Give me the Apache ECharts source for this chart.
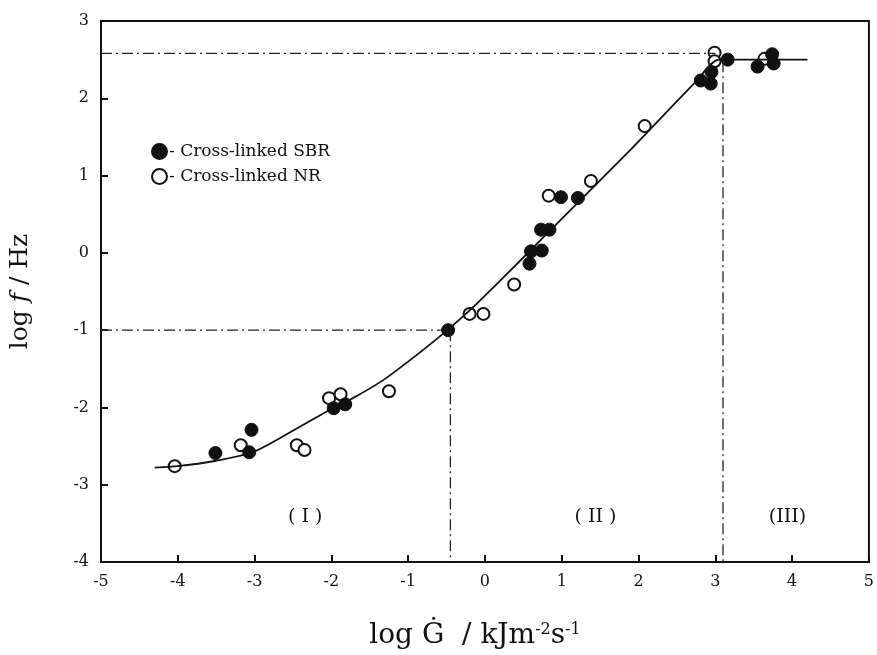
<!DOCTYPE html>
<html lang="en">
<head>
    <meta charset="UTF-8">
    <title>log f vs log G-dot</title>
    <script src="https://cdn.jsdelivr.net/npm/echarts@6/dist/echarts.min.js"></script>
    <style>
        *{
            padding: 0;
            margin: 0;
        }
        body{
            background: #ffffff;
        }
        #chart{
            width: 877px;
            height: 655px;
        }
    </style>
</head>
<body>
<div id="chart"></div>
<script>
    // data
    var sbrPoints = [
        [-3.51, -2.59], [-3.07, -2.58], [-3.04, -2.29], [-1.97, -2.01], [-1.82, -1.96],
        [-0.48, -1.00], [0.58, -0.14], [0.60, 0.02], [0.74, 0.03], [0.73, 0.30],
        [0.84, 0.30], [0.99, 0.72], [1.21, 0.71], [2.81, 2.23], [2.95, 2.34],
        [2.94, 2.19], [3.16, 2.50], [3.55, 2.41], [3.74, 2.57], [3.76, 2.45]
    ];
    var nrPoints = [
        [-4.04, -2.76], [-3.18, -2.49], [-2.45, -2.49], [-2.35, -2.55], [-2.03, -1.88],
        [-1.88, -1.83], [-1.25, -1.79], [-0.20, -0.79], [-0.02, -0.79], [0.38, -0.41],
        [0.83, 0.74], [1.38, 0.93], [2.08, 1.64], [2.99, 2.59], [2.99, 2.48], [3.64, 2.51]
    ];
    // fitted curve
    var curvePoints = [
        [-4.3, -2.78], [-4.0, -2.76], [-3.5, -2.69], [-3.0, -2.57], [-2.41, -2.25],
        [-2.0, -2.02], [-1.72, -1.88], [-1.33, -1.65], [-0.9, -1.33], [-0.49, -1.0],
        [-0.13, -0.68], [0.5, -0.06], [1.0, 0.44], [1.9, 1.34], [2.75, 2.22],
        [3.05, 2.5], [4.2, 2.5]
    ];
    // dash-dot guide lines
    var guideLines = [
        [[-5, 2.58], [3.0, 2.58]],
        [[3.1, 2.48], [3.1, -4]],
        [[-5, -1.0], [-0.45, -1.0]],
        [[-0.45, -1.0], [-0.45, -4]]
    ];
    var regionLabels = [
        [-2.34, -3.42, '( I )'],
        [1.44, -3.42, '( II )'],
        [3.94, -3.42, '(III)']
    ];
    var xTicks = [-5, 5, 1];
    var yTicks = [-4, 3, 1];

    var serif = 'DejaVu Serif';
    var my_chart = echarts.init(document.getElementById('chart'));

    var series = [];
    guideLines.forEach(function (seg) {
        series.push({
            type: 'line',
            data: seg,
            symbol: 'none',
            silent: true,
            lineStyle: {color: '#222', width: 1.3, type: [11, 4, 2, 4]}
        });
    });
    series.push({
        type: 'line',
        data: curvePoints,
        smooth: 0.25,
        symbol: 'none',
        lineStyle: {color: '#111', width: 1.8}
    });
    series.push({
        name: 'Cross-linked NR',
        type: 'scatter',
        data: nrPoints,
        symbolSize: 12,
        itemStyle: {color: '#ffffff', borderColor: '#111', borderWidth: 2, opacity: 1}
    });
    series.push({
        name: 'Cross-linked SBR',
        type: 'scatter',
        data: sbrPoints,
        symbolSize: 13,
        itemStyle: {color: '#111', borderColor: '#111', borderWidth: 1, opacity: 1}
    });
    series.push({
        type: 'scatter',
        data: regionLabels,
        symbolSize: 0,
        silent: true,
        label: {
            show: true,
            formatter: function (p) { return p.data[2]; },
            fontFamily: serif,
            fontSize: 19,
            color: '#111'
        },
        itemStyle: {opacity: 1}
    });

    my_chart.setOption({
        backgroundColor: '#ffffff',
        animation: false,
        grid: {
            left: 99, right: 3, top: 21, bottom: 91,
            show: true,
            borderColor: '#111',
            borderWidth: 2
        },
        legend: {
            data: ['Cross-linked SBR', 'Cross-linked NR'],
            orient: 'vertical',
            left: 146,
            top: 138,
            itemWidth: 15,
            itemHeight: 15,
            itemGap: 8,
            formatter: function (name) { return '- ' + name; },
            textStyle: {fontFamily: serif, fontSize: 17, color: '#111', padding: [0, 0, 0, -3]}
        },
        xAxis: {
            type: 'value',
            min: xTicks[0], max: xTicks[1], interval: xTicks[2],
            name: '{a|log Ġ  / kJm}{s|-2}{a|s}{s|-1}',
            nameLocation: 'middle',
            nameGap: 60,
            nameTextStyle: {
                padding: [0, 20, 0, 0],
                rich: {
                    a: {fontFamily: serif, fontSize: 28, color: '#111'},
                    s: {fontFamily: serif, fontSize: 16, color: '#111', verticalAlign: 'top', padding: [0, 0, 12, 0]}
                }
            },
            axisLine: {onZero: false, lineStyle: {color: '#111', width: 2}},
            axisTick: {inside: true, length: 7, lineStyle: {color: '#111', width: 2}},
            axisLabel: {fontFamily: serif, fontSize: 16, color: '#111', margin: 12},
            splitLine: {show: false}
        },
        yAxis: {
            type: 'value',
            min: yTicks[0], max: yTicks[1], interval: yTicks[2],
            name: '{a|log }{i|f}{a| / Hz}',
            nameLocation: 'middle',
            nameGap: 68,
            nameRotate: 90,
            nameTextStyle: {
                rich: {
                    a: {fontFamily: serif, fontSize: 25, color: '#111'},
                    i: {fontFamily: serif, fontSize: 25, fontStyle: 'italic', color: '#111'}
                }
            },
            axisLine: {onZero: false, lineStyle: {color: '#111', width: 2}},
            axisTick: {inside: true, length: 7, lineStyle: {color: '#111', width: 2}},
            axisLabel: {fontFamily: serif, fontSize: 16, color: '#111', margin: 12},
            splitLine: {show: false}
        },
        series: series
    });
</script>
</body>
</html>
